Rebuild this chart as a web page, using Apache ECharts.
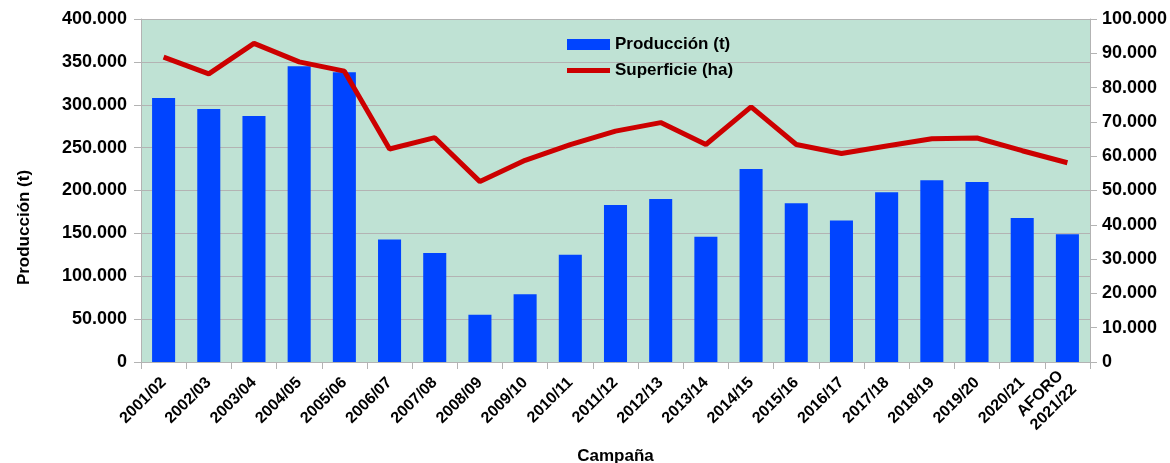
<!DOCTYPE html>
<html>
<head>
<meta charset="utf-8">
<script src="https://cdn.jsdelivr.net/npm/echarts@6/dist/echarts.min.js"></script>
<style>
  html, body { margin: 0; padding: 0; background: #fff; }
  #chart { width: 1170px; height: 463px; }
</style>
</head>
<body>
<div id="chart"></div>
<script>
var campanas = ['2001/02', '2002/03', '2003/04', '2004/05', '2005/06', '2006/07', '2007/08',
  '2008/09', '2009/10', '2010/11', '2011/12', '2012/13', '2013/14', '2014/15', '2015/16',
  '2016/17', '2017/18', '2018/19', '2019/20', '2020/21', 'AFORO\n2021/22'];

// Producción (t)
var produccion = [308000, 295000, 287000, 345000, 338000, 143000, 127000, 55000, 79000, 125000,
  183000, 190000, 146000, 225000, 185000, 165000, 198000, 212000, 210000, 168000, 149000];

// Superficie (ha)
var superficie = [88900, 84000, 92900, 87500, 84800, 62100, 65400, 52600, 58800, 63400,
  67300, 69800, 63400, 74400, 63400, 60800, 63000, 65100, 65300, 61600, 58100];

var fontFam = '"Liberation Sans", Arial, sans-serif';

// miles con punto
function fmt(v) {
  return String(v).replace(/\B(?=(\d{3})+(?!\d))/g, '.');
}

var chart = echarts.init(document.getElementById('chart'));

var legendText = { fontSize: 17, fontWeight: 'bold', color: '#000', fontFamily: fontFam };

var option = {
  backgroundColor: '#fff',
  textStyle: { fontFamily: fontFam },
  legend: [{
    left: 567,
    top: 36,
    padding: 0,
    itemWidth: 43,
    itemHeight: 11,
    textStyle: legendText,
    data: [{ name: 'Producción (t)', icon: 'rect' }]
  }, {
    left: 567,
    top: 62,
    padding: 0,
    itemWidth: 43,
    itemHeight: 5,
    textStyle: legendText,
    data: [{ name: 'Superficie (ha)', icon: 'rect' }]
  }],
  grid: {
    left: 141,
    right: 80,
    top: 19,
    bottom: 101,
    outerBoundsMode: 'none',
    show: true,
    backgroundColor: '#bfe2d4',
    borderWidth: 0
  },
  xAxis: {
    type: 'category',
    data: campanas,
    name: 'Campaña',
    nameLocation: 'middle',
    nameGap: 86,
    nameTextStyle: { fontSize: 17, fontWeight: 'bold', color: '#000' },
    axisLine: { lineStyle: { color: '#b3b3b3', width: 1 } },
    axisTick: { show: true, length: 7, lineStyle: { color: '#b3b3b3' } },
    axisLabel: {
      rotate: 45,
      fontSize: 16,
      fontWeight: 'bold',
      color: '#000',
      margin: 18,
      lineHeight: 19,
      align: 'right'
    }
  },
  yAxis: [{
    type: 'value',
    min: 0,
    max: 400000,
    interval: 50000,
    name: 'Producción (t)',
    nameLocation: 'middle',
    nameGap: 108,
    nameRotate: 90,
    nameTextStyle: { fontSize: 17, fontWeight: 'bold', color: '#000', padding: [0, 74, 0, 0] },
    axisLine: { show: true, lineStyle: { color: '#b3b3b3' } },
    axisTick: { show: true, length: 7, lineStyle: { color: '#b3b3b3' } },
    splitLine: { lineStyle: { color: '#b3b3b3', width: 1 } },
    axisLabel: {
      fontSize: 18,
      fontWeight: 'bold',
      color: '#000',
      margin: 14,
      formatter: fmt
    }
  }, {
    type: 'value',
    min: 0,
    max: 100000,
    interval: 10000,
    position: 'right',
    axisLine: { show: true, lineStyle: { color: '#b3b3b3' } },
    axisTick: { show: true, length: 7, lineStyle: { color: '#b3b3b3' } },
    splitLine: { show: false },
    axisLabel: {
      fontSize: 18,
      fontWeight: 'bold',
      color: '#000',
      margin: 12,
      formatter: fmt
    }
  }],
  series: [{
    name: 'Producción (t)',
    type: 'bar',
    data: produccion,
    barWidth: '51%',
    itemStyle: { color: '#0044ff' },
    silent: true
  }, {
    name: 'Superficie (ha)',
    type: 'line',
    yAxisIndex: 1,
    data: superficie,
    symbol: 'none',
    lineStyle: { color: '#cc0000', width: 5 },
    itemStyle: { color: '#cc0000' },
    silent: true
  }],
  animation: false
};

chart.setOption(option);
</script>
</body>
</html>
